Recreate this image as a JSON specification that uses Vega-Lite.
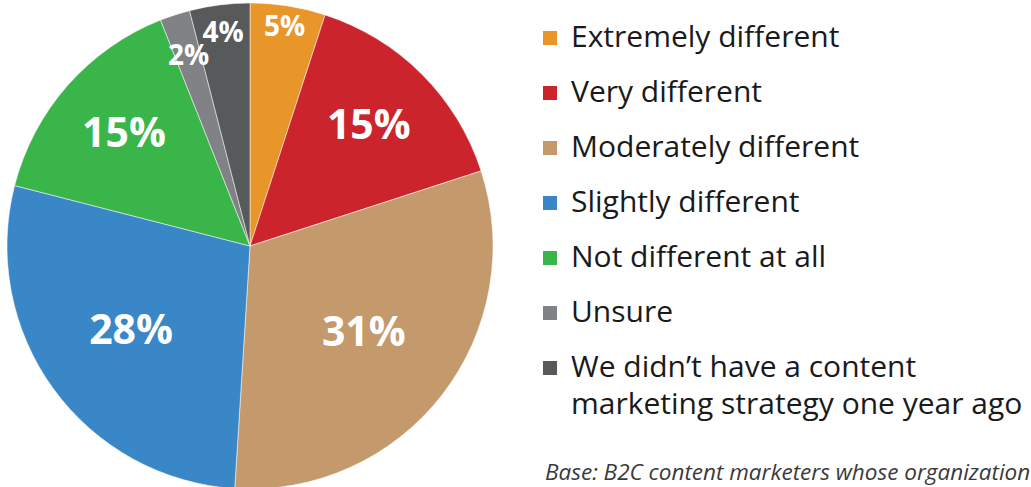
{
  "$schema": "https://vega.github.io/schema/vega-lite/v6.json",
  "autosize": "none",
  "padding": {"left": 0, "top": 5, "right": 531, "bottom": 0},
  "width": 500,
  "height": 482,
  "background": "white",
  "title": {
    "text": "Base: B2C content marketers whose organization",
    "orient": "bottom",
    "anchor": "start",
    "frame": "group",
    "dx": 545,
    "offset": -28,
    "font": "Open Sans",
    "fontStyle": "italic",
    "fontWeight": "normal",
    "fontSize": 22.5,
    "color": "#3a3a3a"
  },
  "data": {
    "values": [
      {"idx": 1, "category": "Extremely different", "value": 0.05},
      {"idx": 2, "category": "Very different", "value": 0.15},
      {"idx": 3, "category": "Moderately different", "value": 0.31},
      {"idx": 4, "category": "Slightly different", "value": 0.28},
      {"idx": 5, "category": "Not different at all", "value": 0.15},
      {"idx": 6, "category": "Unsure", "value": 0.02},
      {"idx": 7, "category": "We didn’t have a content marketing strategy one year ago", "value": 0.04}
    ]
  },
  "encoding": {
    "theta": {"field": "value", "type": "quantitative", "stack": true},
    "order": {"field": "idx", "type": "quantitative"}
  },
  "layer": [
    {
      "mark": {"type": "arc", "outerRadius": 243, "stroke": "white", "strokeWidth": 0.5},
      "encoding": {
        "color": {
          "field": "category",
          "type": "nominal",
          "sort": null,
          "scale": {
            "domain": ["Extremely different", "Very different", "Moderately different", "Slightly different", "Not different at all", "Unsure", "We didn’t have a content marketing strategy one year ago"],
            "range": ["#E8952A", "#CC242D", "#C4996C", "#3A87C7", "#3AB54A", "#808285", "#58595B"]
          },
          "legend": {
            "title": null,
            "orient": "none",
            "legendX": 535,
            "legendY": 18,
            "symbolType": "square",
            "symbolSize": 196,
            "symbolStrokeWidth": 0,
            "labelFont": "Open Sans",
            "labelFontSize": 30,
            "labelColor": "#1a1a1a",
            "labelLimit": 0,
            "labelOffset": 6,
            "rowPadding": 25,
            "labelExpr": "indexof(datum.label, 'We didn') == 0 ? ['We didn’t have a content', 'marketing strategy one year ago'] : datum.label",
            "encode": {"labels": {"update": {"lineHeight": {"value": 37}}}}
          }
        }
      }
    },
    {
      "mark": {"type": "text", "font": "Open Sans", "fontWeight": "bold", "color": "white", "align": "center", "baseline": "middle"},
      "encoding": {
        "text": {"field": "value", "type": "quantitative", "format": ".0%"},
        "radius": {
          "field": "value",
          "type": "quantitative",
          "legend": null,
          "scale": {"type": "linear", "zero": false, "nice": false, "domain": [0.02, 0.04, 0.05, 0.15, 0.28, 0.31], "range": [199, 214, 221, 168, 147, 144]}
        },
        "size": {"condition": {"test": "datum.value <= 0.05", "value": 28}, "value": 41}
      }
    }
  ],
  "config": {"view": {"stroke": null}, "style": {"guide-label": {"lineHeight": 37}}}
}
